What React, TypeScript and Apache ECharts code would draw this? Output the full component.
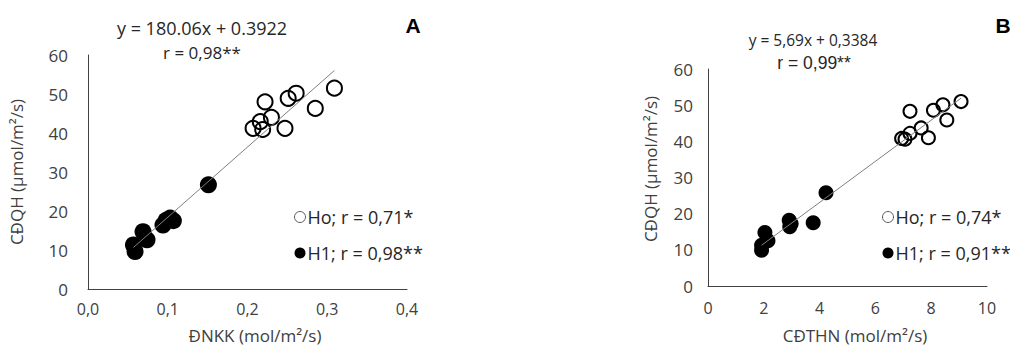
import React, { useEffect, useRef } from "react";
import * as echarts from "echarts";

// Panel A: ĐNKK vs CĐQH
const aHoX = [0.207, 0.219, 0.216, 0.222, 0.23, 0.247, 0.251, 0.261, 0.285, 0.309];
const aHoY = [41.2, 40.9, 42.9, 48.0, 44.0, 41.2, 48.9, 50.2, 46.3, 51.5];
const aH1X = [0.057, 0.059, 0.069, 0.074, 0.094, 0.098, 0.103, 0.107, 0.151];
const aH1Y = [11.3, 9.6, 14.7, 12.6, 16.4, 17.6, 18.2, 17.5, 26.7];
const aSlope = 180.06;
const aIntercept = 0.3922;

// Panel B: CĐTHN vs CĐQH
const bHoX = [6.94, 7.06, 7.24, 7.24, 7.64, 7.9, 8.08, 8.42, 8.56, 9.07];
const bHoY = [40.8, 40.6, 42.2, 48.3, 43.7, 41.0, 48.6, 50.1, 45.9, 51.0];
const bH1X = [1.92, 1.92, 2.04, 2.15, 2.91, 2.93, 2.98, 3.77, 4.23];
const bH1Y = [9.9, 11.3, 14.8, 12.5, 18.2, 16.4, 17.2, 17.5, 25.8];
const bSlope = 5.69;
const bIntercept = 0.3384;

const yTicks = [0, 10, 20, 30, 40, 50, 60];
const aXTicks = ["0,0", "0,1", "0,2", "0,3", "0,4"];
const bXTicks = ["0", "2", "4", "6", "8", "10"];

const legendA = ["Ho; r = 0,71*", "H1; r = 0,98**"];
const legendB = ["Ho; r = 0,74*", "H1; r = 0,91**"];

const FONT = "'Open Sans', sans-serif";
const ARIAL = "'Liberation Sans', Arial, sans-serif";
const TXT = "#404040";
const DARK = "#262626";

const pts = (xs: number[], ys: number[]) => xs.map((x, i) => [x, ys[i]]);
const trend = (xs: number[], a: number, b: number) => {
  const lo = Math.min(...xs);
  const hi = Math.max(...xs);
  return [
    [lo, a * lo + b],
    [hi, a * hi + b],
  ];
};

export default function App() {
  const ref = useRef<HTMLDivElement>(null);
  useEffect(() => {
    if (!ref.current) return;
    const chart = echarts.init(ref.current, null, { renderer: "svg" });
    const axisLine = { show: true, lineStyle: { color: "#404040", width: 1 } };
    const yAxisBase = (gridIndex: number, margin: number) => ({
      type: "value",
      gridIndex,
      min: 0,
      max: 60,
      interval: 10,
      axisLine,
      axisTick: { show: false },
      splitLine: { show: false },
      axisLabel: {
        color: TXT,
        fontFamily: FONT,
        fontSize: 17,
        margin,
        formatter: (v: number) => String(yTicks[Math.round(v / 10)]),
      },
    });
    const openStyle = { color: "rgba(255,255,255,0)", borderColor: "#000", borderWidth: 2, opacity: 1 };
    const fillStyle = { color: "#000", opacity: 1 };
    const legendText = { color: DARK, fontFamily: FONT, fontSize: 18, padding: [0, 0, 0, -3] };
    const legendBase = {
      orient: "vertical",
      top: 203,
      itemGap: 18,
      itemWidth: 11,
      itemHeight: 11,
      icon: "circle",
      selectedMode: false,
      textStyle: legendText,
    };
    const option: any = {
      animation: false,
      grid: [
        { left: 88, top: 55, width: 319, height: 234 },
        { left: 708, top: 69, width: 279, height: 217 },
      ],
      xAxis: [
        {
          type: "value",
          gridIndex: 0,
          min: 0,
          max: 0.4,
          interval: 0.1,
          axisLine,
          axisTick: { show: false },
          splitLine: { show: false },
          axisLabel: {
            color: TXT,
            fontFamily: FONT,
            fontSize: 16,
            margin: 12,
            formatter: (v: number) => aXTicks[Math.round(v * 10)],
          },
        },
        {
          type: "value",
          gridIndex: 1,
          min: 0,
          max: 10,
          interval: 2,
          axisLine,
          axisTick: { show: false },
          splitLine: { show: false },
          axisLabel: {
            color: TXT,
            fontFamily: FONT,
            fontSize: 16,
            margin: 14,
            formatter: (v: number) => bXTicks[Math.round(v / 2)],
          },
        },
      ],
      yAxis: [yAxisBase(0, 20), yAxisBase(1, 15)],
      legend: [
        {
          ...legendBase,
          left: 289,
          data: [
            { name: legendA[0], itemStyle: { color: "#fff", borderColor: "#595959", borderWidth: 1 } },
            { name: legendA[1], itemStyle: { color: "#000", borderWidth: 0 } },
          ],
        },
        {
          ...legendBase,
          left: 877,
          data: [
            { name: legendB[0], itemStyle: { color: "#fff", borderColor: "#595959", borderWidth: 1 } },
            { name: legendB[1], itemStyle: { color: "#000", borderWidth: 0 } },
          ],
        },
      ],
      series: [
        { name: legendA[0], type: "scatter", xAxisIndex: 0, yAxisIndex: 0, symbol: "circle", symbolSize: 15, itemStyle: openStyle, data: pts(aHoX, aHoY), z: 2 },
        { name: legendA[1], type: "scatter", xAxisIndex: 0, yAxisIndex: 0, symbol: "circle", symbolSize: 17, itemStyle: fillStyle, data: pts(aH1X, aH1Y), z: 2 },
        { name: "trendA", type: "line", xAxisIndex: 0, yAxisIndex: 0, symbol: "none", lineStyle: { color: "#7f7f7f", width: 1 }, data: trend([...aHoX, ...aH1X], aSlope, aIntercept), z: 3 },
        { name: legendB[0], type: "scatter", xAxisIndex: 1, yAxisIndex: 1, symbol: "circle", symbolSize: 13, itemStyle: openStyle, data: pts(bHoX, bHoY), z: 2 },
        { name: legendB[1], type: "scatter", xAxisIndex: 1, yAxisIndex: 1, symbol: "circle", symbolSize: 15, itemStyle: fillStyle, data: pts(bH1X, bH1Y), z: 2 },
        { name: "trendB", type: "line", xAxisIndex: 1, yAxisIndex: 1, symbol: "none", lineStyle: { color: "#7f7f7f", width: 1 }, data: trend([...bHoX, ...bH1X], bSlope, bIntercept), z: 3 },
      ],
      graphic: [
        { type: "text", x: 202, y: 28, style: { text: "y = 180.06x + 0.3922", fill: DARK, font: `18px ${FONT}`, textAlign: "center", textVerticalAlign: "middle" } },
        { type: "text", x: 202, y: 52, style: { text: "r = 0,98**", fill: DARK, font: `17px ${FONT}`, textAlign: "center", textVerticalAlign: "middle" } },
        { type: "text", x: 413, y: 25, style: { text: "A", fill: "#000", font: `bold 21px ${ARIAL}`, textAlign: "center", textVerticalAlign: "middle" } },
        { type: "text", x: 813, y: 40, style: { text: "y = 5,69x + 0,3384", fill: DARK, font: `15.5px ${FONT}`, textAlign: "center", textVerticalAlign: "middle" } },
        { type: "text", x: 814, y: 63, style: { text: "r = 0,99**", fill: DARK, font: `17.5px ${ARIAL}`, textAlign: "center", textVerticalAlign: "middle" } },
        { type: "text", x: 1003, y: 25, style: { text: "B", fill: "#000", font: `bold 21px ${ARIAL}`, textAlign: "center", textVerticalAlign: "middle" } },
        { type: "text", x: 255, y: 335.3, style: { text: "ĐNKK (mol/m²/s)", fill: TXT, font: `17px ${FONT}`, textAlign: "center", textVerticalAlign: "middle" } },
        { type: "text", x: 855, y: 335.3, style: { text: "CĐTHN (mol/m²/s)", fill: TXT, font: `17px ${FONT}`, textAlign: "center", textVerticalAlign: "middle" } },
        { type: "text", x: 16, y: 172, rotation: Math.PI / 2, style: { text: "CĐQH (µmol/m²/s)", fill: TXT, font: `17px ${FONT}`, textAlign: "center", textVerticalAlign: "middle" } },
        { type: "text", x: 650, y: 169, rotation: Math.PI / 2, style: { text: "CĐQH (µmol/m²/s)", fill: TXT, font: `17px ${FONT}`, textAlign: "center", textVerticalAlign: "middle" } },
      ],
    };
    chart.setOption(option);
    return () => chart.dispose();
  }, []);
  return (
    <div
      ref={ref}
      style={{ position: "fixed", left: 0, top: 0, width: 1010, height: 347, background: "#fff" }}
    />
  );
}
